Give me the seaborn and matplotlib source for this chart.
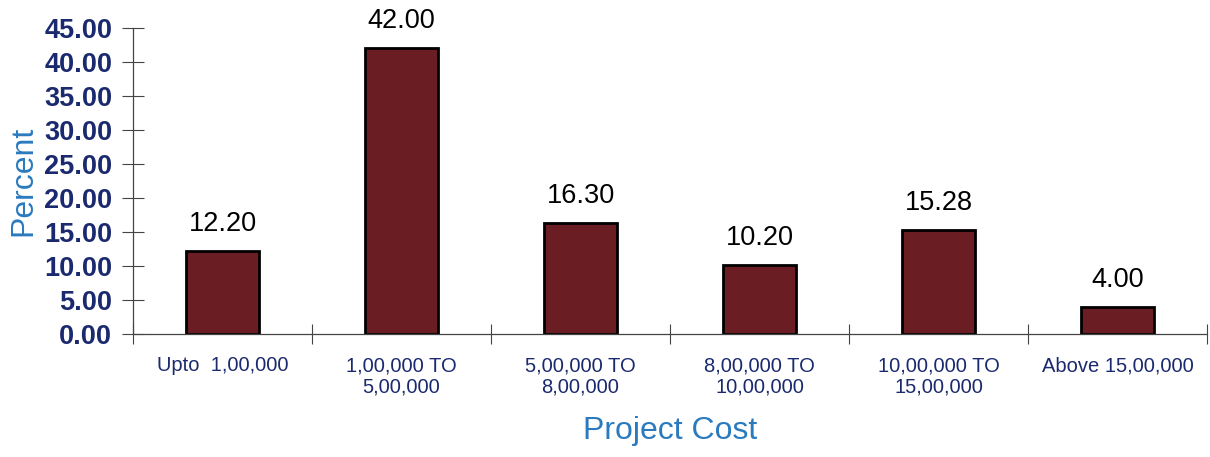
import matplotlib
matplotlib.use("Agg")
import matplotlib.pyplot as plt
import numpy as np
import seaborn as sns
from matplotlib.ticker import FormatStrFormatter

categories = [
    "Upto  1,00,000",
    "1,00,000 TO\n5,00,000",
    "5,00,000 TO\n8,00,000",
    "8,00,000 TO\n10,00,000",
    "10,00,000 TO\n15,00,000",
    "Above 15,00,000",
]
percent = [12.20, 42.00, 16.30, 10.20, 15.28, 4.00]
y_ticks = [0, 5, 10, 15, 20, 25, 30, 35, 40, 45]

BAR_COLOR = "#6a1e23"
TICK_COLOR = "#1b2a6e"
LABEL_COLOR = "#2a7abf"

sns.set_style("white")
plt.rcParams["font.family"] = ["Liberation Sans", "DejaVu Sans"]

fig = plt.figure(figsize=(12.1, 4.57), dpi=100)
ax = fig.add_axes([0.11, 0.269, 0.8875, 0.67])

sns.barplot(x=categories, y=percent, color=BAR_COLOR, saturation=1,
            width=0.41, edgecolor="black", linewidth=2, ax=ax)

for i, v in enumerate(percent):
    ax.annotate(f"{v:.2f}", (i, v), xytext=(0, 10), textcoords="offset points",
                ha="center", va="bottom", fontsize=19.5, color="black")

ax.set_xlim(-0.5, len(categories) - 0.5)
ax.set_ylim(0, 45)
ax.set_yticks(y_ticks)
ax.yaxis.set_major_formatter(FormatStrFormatter("%.2f"))
for lab in ax.get_yticklabels():
    lab.set_fontweight("bold")
ax.tick_params(axis="y", labelsize=19.5, labelcolor=TICK_COLOR, direction="inout",
               length=16, width=0.8, color="#444444", left=True, pad=7)

# category labels at centres, tick marks at boundaries
ax.set_xticks(np.arange(len(categories)))
ax.set_xticklabels(categories)
ax.set_xticks(np.arange(len(categories) + 1) - 0.5, minor=True)
ax.tick_params(axis="x", which="major", length=0, labelsize=14.5,
               labelcolor=TICK_COLOR, pad=16)
ax.tick_params(axis="x", which="minor", direction="inout", length=14,
               width=0.8, color="#444444", bottom=True)
for lab in ax.get_xticklabels():
    lab.set_linespacing(1.15)

for side in ["top", "right"]:
    ax.spines[side].set_visible(False)
for side in ["left", "bottom"]:
    ax.spines[side].set_color("#444444")
    ax.spines[side].set_linewidth(0.9)

ax.set_ylabel("Percent", fontsize=23, color=LABEL_COLOR, labelpad=4)
ax.set_xlabel("Project Cost", fontsize=23, color=LABEL_COLOR, labelpad=14)

fig.savefig("out.png", dpi=100, facecolor="white")
